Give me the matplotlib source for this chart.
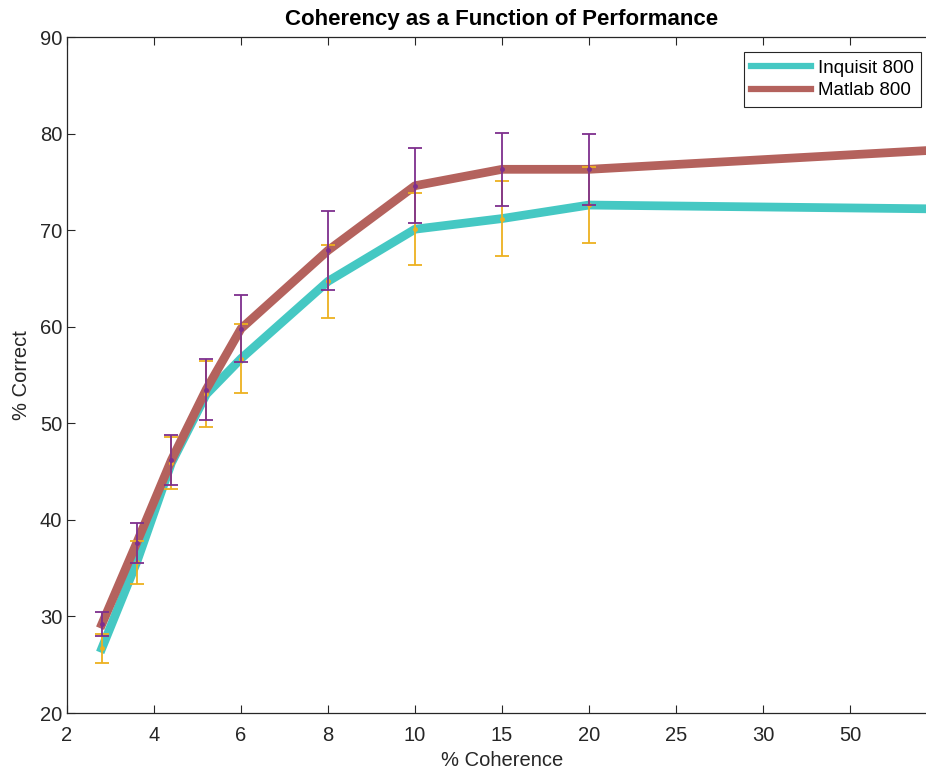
import matplotlib.pyplot as plt
import numpy as np

plt.rcParams["font.family"] = ["Liberation Sans", "DejaVu Sans"]

# x positions on the (evenly spaced) coherence axis, relabelled below
coherence = [2.8, 3.6, 4.4, 5.2, 6, 8, 10, 12, 14, 22]
tick_pos = [2, 4, 6, 8, 10, 12, 14, 16, 18, 20]
tick_labels = ["2", "4", "6", "8", "10", "15", "20", "25", "30", "50"]

inquisit = [26.7, 35.6, 45.9, 53.0, 56.7, 64.7, 70.1, 71.2, 72.6, 72.2]
inquisit_err = [1.5, 2.2, 2.7, 3.4, 3.6, 3.8, 3.7, 3.9, 3.9]
matlab = [29.2, 37.6, 46.2, 53.5, 59.8, 67.9, 74.6, 76.3, 76.3, 78.3]
matlab_err = [1.25, 2.1, 2.55, 3.2, 3.5, 4.05, 3.9, 3.75, 3.7]

cyan = "#45c8c3"
brown = "#b4625d"
yellow = "#edb120"
purple = "#7e2f8e"
axis_col = "#262626"

fig = plt.figure(figsize=(9.26, 7.71), dpi=100)
# right edge of the axes sits just past the figure edge, like the cropped original
ax = fig.add_axes([0.0724, 0.0752, 0.9395, 0.8768])

ax.plot(coherence, inquisit, color=cyan, lw=6.3, label="Inquisit 800", zorder=2)
ax.plot(coherence, matlab, color=brown, lw=6.3, label="Matlab 800", zorder=3)

n = len(inquisit_err)
ax.errorbar(coherence[:n], inquisit[:n], yerr=inquisit_err, fmt=".", color=yellow,
            ms=5, elinewidth=1.3, capsize=5, capthick=1.3, zorder=4)
ax.errorbar(coherence[:n], matlab[:n], yerr=matlab_err, fmt=".", color=purple,
            ms=5, elinewidth=1.3, capsize=5, capthick=1.3, zorder=5)

ax.set_xlim(2, 22)
ax.set_ylim(20, 90)
ax.set_xticks(tick_pos)
ax.set_xticklabels(tick_labels)
ax.set_yticks(np.arange(20, 91, 10))

ax.tick_params(direction="in", length=6, width=0.8, colors=axis_col,
               labelsize=14.5, top=True, right=False)
ax.tick_params(axis="x", pad=9)
for s in ax.spines.values():
    s.set_color(axis_col)
    s.set_linewidth(0.9)

ax.set_xlabel("% Coherence", fontsize=14.5, color=axis_col, labelpad=5)
ax.set_ylabel("% Correct", fontsize=14.5, color=axis_col, labelpad=6)
ax.set_title("Coherency as a Function of Performance", fontsize=16,
             fontweight="bold", pad=9)

leg = ax.legend(loc="upper right", bbox_to_anchor=(921 / 926, 1 - 52 / 771),
                bbox_transform=fig.transFigure, fontsize=13.5, fancybox=False,
                framealpha=1, edgecolor=axis_col, handlelength=3.2,
                borderpad=0.4, labelspacing=0.3, handletextpad=0.35,
                borderaxespad=0)
leg.get_frame().set_linewidth(0.8)
for line in leg.get_lines():
    line.set_linewidth(4.5)

fig.savefig("out.png", dpi=100)
